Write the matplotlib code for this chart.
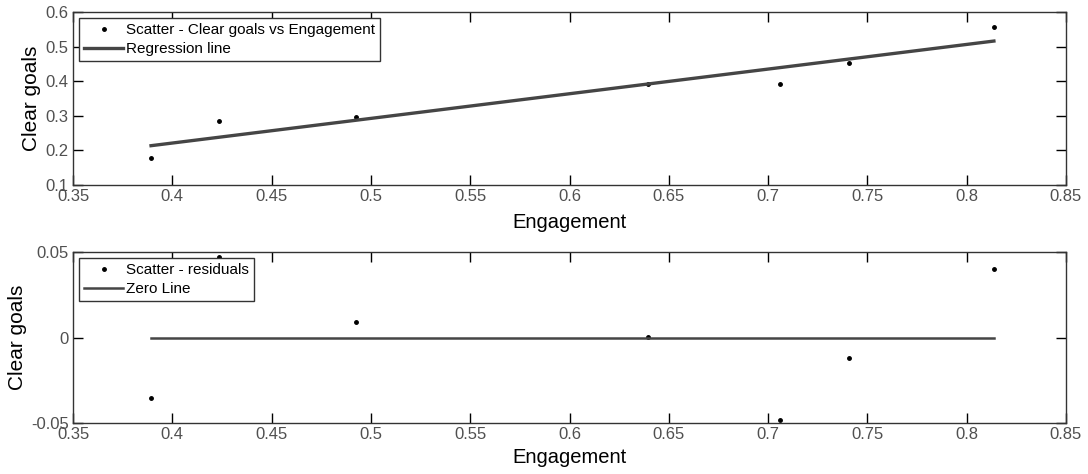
import matplotlib.pyplot as plt
import numpy as np

plt.rcParams['font.family'] = ['Liberation Sans', 'DejaVu Sans']

engagement = [0.3893, 0.4235, 0.4925, 0.6395, 0.7058, 0.7408, 0.8137]
clear_goals = [0.178, 0.285, 0.296, 0.392, 0.391, 0.452, 0.556]

x_ticks = [0.35, 0.4, 0.45, 0.5, 0.55, 0.6, 0.65, 0.7, 0.75, 0.8, 0.85]
x_labels = ['0.35', '0.4', '0.45', '0.5', '0.55', '0.6', '0.65', '0.7', '0.75', '0.8', '0.85']
top_y_ticks = [0.1, 0.2, 0.3, 0.4, 0.5, 0.6]
bottom_y_ticks = [-0.05, 0, 0.05]

x = np.array(engagement)
y = np.array(clear_goals)
slope, intercept = np.polyfit(x, y, 1)
fitted = slope * x + intercept
residuals = y - fitted

line_color = '#454545'
tick_color = '#505050'


def style_axes(ax, xlabel_pad, ylabel_x):
    ax.set_xlim(0.35, 0.85)
    ax.set_xticks(x_ticks)
    ax.set_xticklabels(x_labels)
    ax.tick_params(direction='in', length=7, width=1, top=True, right=True,
                   labelsize=12, labelcolor=tick_color, pad=3)
    for spine in ax.spines.values():
        spine.set_color('#333333')
        spine.set_linewidth(1)
    ax.set_xlabel('Engagement', fontsize=14.5, labelpad=xlabel_pad)
    ax.set_ylabel('Clear goals', fontsize=15)
    ax.yaxis.set_label_coords(ylabel_x, 0.5)


fig = plt.figure(figsize=(10.88, 4.74), dpi=100)
ax1 = fig.add_axes([73 / 1088, 1 - 185 / 474, 993 / 1088, 173 / 474])
ax2 = fig.add_axes([73 / 1088, 1 - 423 / 474, 993 / 1088, 171 / 474])

ax1.plot(engagement, clear_goals, '.', color='black', markersize=5,
         label='Scatter - Clear goals vs Engagement')
ax1.plot(engagement, fitted, '-', color=line_color, linewidth=2.4,
         label='Regression line')
ax1.set_ylim(0.1, 0.6)
ax1.set_yticks(top_y_ticks)
ax1.set_yticklabels(['0.1', '0.2', '0.3', '0.4', '0.5', '0.6'])
style_axes(ax1, 6, -0.032)

ax2.plot(engagement, residuals, '.', color='black', markersize=5,
         label='Scatter - residuals')
ax2.plot(engagement, np.zeros_like(residuals), '-', color=line_color,
         linewidth=1.8, label='Zero Line')
ax2.set_ylim(-0.05, 0.05)
ax2.set_yticks(bottom_y_ticks)
ax2.set_yticklabels(['-0.05', '0', '0.05'])
style_axes(ax2, 4, -0.046)

for ax in (ax1, ax2):
    leg = ax.legend(loc='upper left', fontsize=11, fancybox=False,
                    framealpha=1, edgecolor='#333333', handlelength=2.5,
                    handletextpad=0.2, borderpad=0.35, labelspacing=0.3,
                    borderaxespad=0.4)
    leg.get_frame().set_linewidth(1)

fig.savefig('out.png', dpi=100)
